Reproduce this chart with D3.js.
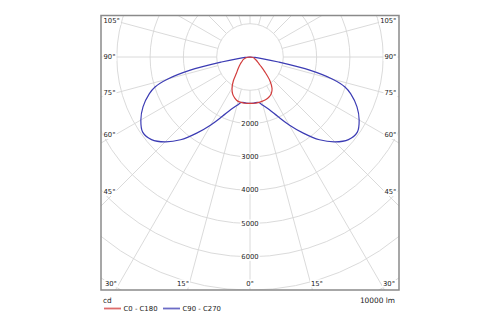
<!DOCTYPE html>
<html>
<head>
<meta charset="utf-8">
<script src="https://cdn.jsdelivr.net/npm/d3@7"></script>
<style>
  html, body { margin: 0; padding: 0; background: #fff; }
  svg { display: block; }
  text { font-family: "DejaVu Sans", sans-serif; fill: #222; }
</style>
</head>
<body>
<script>
// ---- data (luminous intensity, cd, vs gamma angle from nadir, degrees) ----
const gammaRed   = [0, 5, 10, 15, 20, 25, 30, 35, 40, 45, 50, 55, 60, 70, 80, 90];
const redC0      = [1395, 1395, 1390, 1380, 1365, 1335, 1275, 1155, 930, 630, 420, 300, 240, 150, 90, 0];
const redC180    = [1395, 1395, 1390, 1380, 1320, 1230, 1080, 870, 630, 510, 420, 350, 285, 210, 120, 0];

const gammaBlue  = [0, 5, 10, 15, 20, 25, 30, 35, 40, 45, 50, 55, 60, 65, 70, 72.5, 75, 77.5, 80, 82.5, 85, 90];
const blueC90    = [1395, 1390, 1380, 1500, 1680, 1965, 2355, 2790, 3245, 3605, 3860, 3935, 3785, 3545, 3215, 2990, 2555, 1860, 870, 360, 150, 0];
const blueC270   = [1395, 1390, 1380, 1500, 1680, 1965, 2355, 2790, 3245, 3605, 3860, 3935, 3785, 3545, 3215, 2990, 2555, 1860, 870, 360, 150, 0];

const ringValues    = [1000, 2000, 3000, 4000, 5000, 6000, 7000, 8000, 9000];
const ringLabels    = [2000, 3000, 4000, 5000, 6000];
const spokeAngles   = d3.range(0, 360, 15);
const sideLabels    = [105, 90, 75, 60, 45];
const bottomLabels  = [-30, -15, 0, 15, 30];
const seriesNames   = ["C0 - C180", "C90 - C270"];
const seriesColors  = ["#d23c3c", "#3c3cb4"];
const unitLeft      = "cd";
const unitRight     = "10000 lm";

// ---- layout ----
const W = 500, H = 325;
const box = { x: 101, y: 15.5, w: 298, h: 274.5 };
const cx = 250, cy = 57;
const r = d3.scaleLinear().domain([0, 1000]).range([0, 33.3]);

const svg = d3.select("body").append("svg").attr("width", W).attr("height", H);
svg.append("rect").attr("width", W).attr("height", H).attr("fill", "#fff");

svg.append("defs").append("clipPath").attr("id", "clip")
  .append("rect").attr("x", box.x).attr("y", box.y).attr("width", box.w).attr("height", box.h);

const g = svg.append("g").attr("clip-path", "url(#clip)");
const c = g.append("g").attr("transform", `translate(${cx},${cy})`);

// rings
c.selectAll("circle.ring").data(ringValues).join("circle")
  .attr("class", "ring").attr("r", d => r(d))
  .attr("fill", "none").attr("stroke", "#d6d6d6").attr("stroke-width", 0.9);

// spokes (angle measured from nadir, screen y downwards)
const rad = d => d * Math.PI / 180;
c.selectAll("line.spoke").data(spokeAngles).join("line")
  .attr("class", "spoke")
  .attr("x1", d => r(1000) * Math.sin(rad(d)))
  .attr("y1", d => r(1000) * Math.cos(rad(d)))
  .attr("x2", d => 600 * Math.sin(rad(d)))
  .attr("y2", d => 600 * Math.cos(rad(d)))
  .attr("stroke", "#d6d6d6").attr("stroke-width", 0.9);

// helper: labels with white background
function labelWithBg(parent, x, y, txt, anchor, size) {
  const gg = parent.append("g");
  const bg = gg.append("rect").attr("fill", "#fff");
  const t = gg.append("text").attr("x", x).attr("y", y)
    .attr("text-anchor", anchor).attr("dominant-baseline", "central")
    .attr("font-size", size).text(txt);
  const bb = t.node().getBBox();
  bg.attr("x", bb.x - 1).attr("y", bb.y).attr("width", bb.width + 2).attr("height", bb.height);
}

// ring labels
ringLabels.forEach(v => labelWithBg(c, 0, r(v), String(v), "middle", 6.8));

// side angle labels
sideLabels.forEach(a => {
  const xin = 14;
  const t = (cx - (box.x + xin)) / Math.sin(rad(a));
  const y = cy + t * Math.cos(rad(a));
  labelWithBg(g, box.x + 2.5, y, a + "°", "start", 6.8);
  labelWithBg(g, box.x + box.w - 2.5, y, a + "°", "end", 6.8);
});

// bottom angle labels
bottomLabels.forEach(a => {
  const by = box.y + box.h;
  const x = cx + (by - cy) * Math.tan(rad(a));
  const anchor = a < 0 ? "end" : (a > 0 ? "start" : "middle");
  labelWithBg(g, x + (a < 0 ? 1.5 : (a > 0 ? -1.5 : 0)), by - 6.5, Math.abs(a) + "°", anchor, 6.8);
});

// curves
function closedCurve(gam, sideA, sideB) {
  // sideA drawn on the left, sideB on the right
  const pts = [];
  for (let i = gam.length - 1; i >= 0; i--) pts.push([Math.PI + rad(gam[i]), r(sideA[i])]);
  for (let i = 1; i < gam.length; i++) pts.push([Math.PI - rad(gam[i]), r(sideB[i])]);
  return d3.lineRadial().angle(d => d[0]).radius(d => d[1])
    .curve(d3.curveCatmullRom.alpha(0.5))(pts);
}

c.append("path").attr("d", closedCurve(gammaBlue, blueC270, blueC90))
  .attr("fill", "none").attr("stroke", seriesColors[1]).attr("stroke-width", 1.2);
c.append("path").attr("d", closedCurve(gammaRed, redC180, redC0))
  .attr("fill", "none").attr("stroke", seriesColors[0]).attr("stroke-width", 1.2);

// frame
svg.append("rect").attr("x", box.x).attr("y", box.y).attr("width", box.w).attr("height", box.h)
  .attr("fill", "none").attr("stroke", "#8a8a8a").attr("stroke-width", 1.5);

// units
svg.append("text").attr("x", box.x + 2).attr("y", 300).attr("dominant-baseline", "central")
  .attr("font-size", 7.4).text(unitLeft);
svg.append("text").attr("x", box.x + box.w - 4).attr("y", 300).attr("dominant-baseline", "central")
  .attr("text-anchor", "end").attr("font-size", 7.4).text(unitRight);

// legend
const legX = [104, 163];
seriesNames.forEach((name, i) => {
  svg.append("line").attr("x1", legX[i]).attr("x2", legX[i] + 17).attr("y1", 308.5).attr("y2", 308.5)
    .attr("stroke", seriesColors[i]).attr("stroke-width", 1.8).attr("opacity", 0.75);
  svg.append("text").attr("x", legX[i] + 19.5).attr("y", 308.5).attr("dominant-baseline", "central")
    .attr("font-size", 6.9).text(name);
});
</script>
</body>
</html>
